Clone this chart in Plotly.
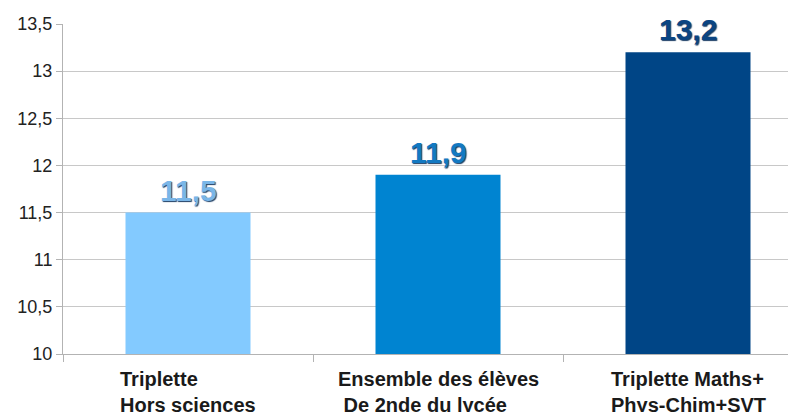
import plotly.graph_objects as go

categories = ["Triplette<br>Hors sciences", "Ensemble des élèves<br> De 2nde du lycée", "Triplette Maths+<br>Phys-Chim+SVT"]
values = [11.5, 11.9, 13.2]
value_labels = ["11,5", "11,9", "13,2"]
bar_colors = ["#83caff", "#0084d1", "#004586"]
label_colors = ["#7ab6e8", "#1379c2", "#0b4482"]
y_ticks = [10, 10.5, 11, 11.5, 12, 12.5, 13, 13.5]
y_tick_labels = ["10", "10,5", "11", "11,5", "12", "12,5", "13", "13,5"]

x_idx = list(range(len(categories)))

fig = go.Figure()
fig.add_trace(go.Bar(x=x_idx, y=values, marker=dict(color=bar_colors, line=dict(width=0)),
                     width=0.5, hoverinfo="skip"))

for i, (v, t, c) in enumerate(zip(values, value_labels, label_colors)):
    fig.add_annotation(x=i, y=v, text=f"<b>{t}</b>", showarrow=False, yanchor="bottom", yshift=4,
                       font=dict(family="Liberation Sans, Arial", size=30, color=c,
                                 shadow="1px 1px 1px #1d3f66"))

for i, cat in enumerate(categories):
    fig.add_annotation(x=i, y=0, xref="x", yref="paper", yanchor="top", yshift=-12,
                       text=f"<b>{cat}</b>", showarrow=False, align="left",
                       font=dict(family="Liberation Sans, Arial", size=20, color="#1a1a1a"))

# page body has an 8px margin, so the figure is offset by (8, 8) on the page
fig.update_layout(
    width=788, height=404,
    margin=dict(l=55, r=0, t=16, b=58, autoexpand=False),
    paper_bgcolor="white", plot_bgcolor="white",
    showlegend=False,
    bargap=0.5,
    font=dict(family="Liberation Sans, Arial", color="#222"),
)
fig.update_xaxes(range=[-0.5, 2.432], tickvals=[-0.5, 0.5, 1.5, 2.5], showticklabels=False,
                 ticks="outside", ticklen=7, tickcolor="#b3b3b3", showgrid=False, automargin=False,
                 showline=True, linecolor="#b3b3b3", linewidth=1, zeroline=False)
fig.update_yaxes(range=[10, 13.5], tickvals=y_ticks, ticktext=y_tick_labels, automargin=False,
                 ticks="outside", ticklen=6, tickcolor="#b3b3b3",
                 showgrid=True, gridcolor="#c8c8c8", gridwidth=1,
                 showline=True, linecolor="#b3b3b3", linewidth=1, zeroline=False,
                 tickfont=dict(family="Liberation Sans, Arial", size=18, color="#222"))

fig.write_html("out.html")
